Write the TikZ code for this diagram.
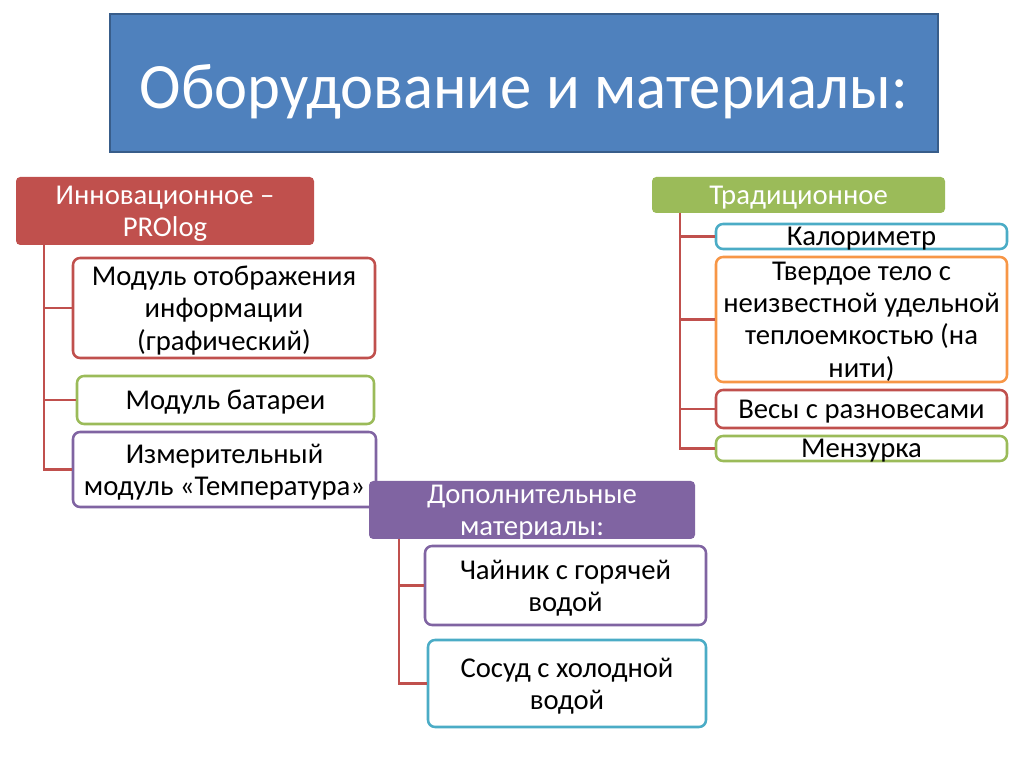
\documentclass[tikz,border=0pt]{standalone}
\usepackage{fontspec}
\setmainfont{Carlito}
\usepackage{xcolor}
\usepackage{tikz}
\definecolor{titleblue}{RGB}{79, 129, 189}
\definecolor{titleedge}{RGB}{56, 93, 138}
\definecolor{innored}{RGB}{192, 80, 77}
\definecolor{tradgreen}{RGB}{155, 187, 89}
\definecolor{addpurple}{RGB}{128, 100, 162}
\definecolor{aquablue}{RGB}{75, 172, 198}
\definecolor{warmorange}{RGB}{247, 150, 70}

\tikzset{
	header/.style={fill=#1, text=white, rounded corners=3pt, align=center, inner sep=0pt, text depth=0pt, font=\fontsize{20.4}{23}\selectfont},
	itembox/.style={draw=#1, fill=white, line width=1.8pt, rounded corners=5pt, align=center, inner sep=0pt, text depth=0pt, font=\fontsize{20.4}{23}\selectfont},
	oneline/.style={text height=13.2pt, text depth=0pt},
	branch/.style={innored, line width=2pt}
}

\begin{document}
\begin{tikzpicture}
			\useasboundingbox (0, 0) rectangle (25.6, 19.175);
			
			% TITLE
			\node[draw=titleedge, fill=titleblue, line width=1.5pt, minimum width=20.7cm, minimum height=3.45cm] (title) at (13.1, 17.1) {};
			\node[text=white, inner sep=0pt, text depth=0pt, font=\fontsize{46}{50}\selectfont] (titletext) at ([yshift=-0.1cm]title.center) {\scalebox{0.968}[1]{Оборудование и материалы:}};
			
			% LEFT: INNOVATIVE
			\node[header=innored, minimum width=7.45cm, minimum height=1.7cm] (inno) at (4.125, 13.9) {Инновационное –\\PROlog};
			\coordinate (innoroot) at (1.1, 13.05);
			\node[itembox=innored, minimum width=7.55cm, minimum height=2.5cm] (display) at (5.6, 11.475) {Модуль отображения\\информации\\(графический)};
			\node[itembox=tradgreen, oneline, minimum width=7.425cm, minimum height=1.2cm] (battery) at (5.6375, 9.175) {Модуль батареи};
			\node[itembox=addpurple, minimum width=7.575cm, minimum height=1.875cm] (sensor) at (5.6125, 7.4375) {Измерительный\\модуль «Температура»};
			\draw[branch] (innoroot) |- (display.west);
			\draw[branch] (innoroot) |- (battery.west);
			\draw[branch] (innoroot) |- (sensor.west);
			
			% RIGHT: TRADITIONAL
			\node[header=tradgreen, oneline, minimum width=7.325cm, minimum height=0.9cm] (trad) at (19.9625, 14.3) {Традиционное};
			\coordinate (tradroot) at (17.0, 13.85);
			\node[itembox=aquablue, oneline, minimum width=7.275cm, minimum height=0.625cm] (calor) at (21.5375, 13.2625) {Калориметр};
			\node[itembox=warmorange, minimum width=7.275cm, minimum height=3.125cm] (solid) at (21.5375, 11.1875) {Твердое тело с\\неизвестной удельной\\теплоемкостью (на\\нити)};
			\node[itembox=innored, oneline, minimum width=7.275cm, minimum height=0.95cm] (scales) at (21.5375, 8.95) {Весы с разновесами};
			\node[itembox=tradgreen, oneline, minimum width=7.275cm, minimum height=0.625cm] (beaker) at (21.5375, 7.9625) {Мензурка};
			\draw[branch] (tradroot) |- (calor.west);
			\draw[branch] (tradroot) |- (solid.west);
			\draw[branch] (tradroot) |- (scales.west);
			\draw[branch] (tradroot) |- (beaker.west);
			
			% MIDDLE: ADDITIONAL
			\node[header=addpurple, minimum width=8.15cm, minimum height=1.45cm] (extra) at (13.3, 6.425) {Дополнительные\\материалы:};
			\coordinate (extraroot) at (9.975, 5.7);
			\node[itembox=addpurple, minimum width=7.025cm, minimum height=1.975cm] (kettle) at (14.1375, 4.5375) {Чайник с горячей\\водой};
			\node[itembox=aquablue, minimum width=6.95cm, minimum height=2.175cm] (vessel) at (14.175, 2.0875) {Сосуд с холодной\\водой};
			\draw[branch] (extraroot) |- (kettle.west);
			\draw[branch] (extraroot) |- (vessel.west);
			
		\end{tikzpicture}
\end{document}
